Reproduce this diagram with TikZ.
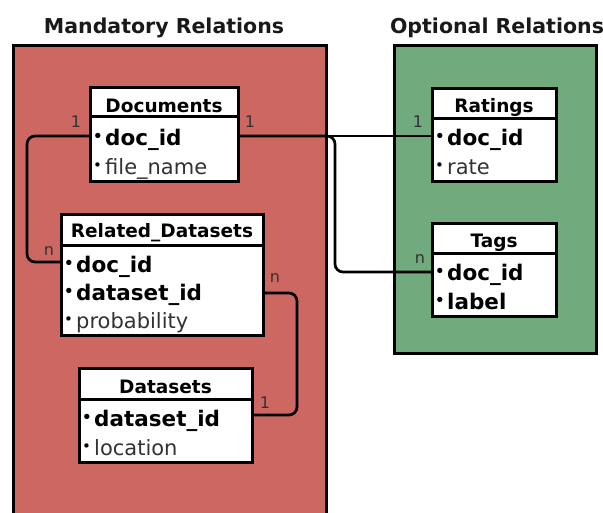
\documentclass[tikz,border=0pt]{standalone}
\usepackage{fontspec}
\setmainfont{DejaVu Sans}
\definecolor{redfill}{RGB}{204,103,98}
\definecolor{greenfill}{RGB}{113,170,125}
\definecolor{softtext}{RGB}{50,50,50}
\newcommand{\bul}{\makebox[12pt][l]{\raisebox{3.5pt}{\color{black}\fontsize{15}{15}\selectfont •}}}
\begin{document}
\begin{tikzpicture}[x=1pt,y=-1pt,
  groupbox/.style={draw=black,line width=3pt},
  hdrbox/.style={draw=black,fill=white,line width=3pt,outer sep=0pt,inner sep=0pt,anchor=north west},
  bodybox/.style={draw=black,fill=white,line width=3pt,outer sep=0pt,inner sep=0pt,anchor=north west},
  hdrtext/.style={font=\bfseries\fontsize{18.5}{20}\selectfont,anchor=base,inner sep=0pt},
  keyrow/.style={font=\bfseries\fontsize{21.5}{23}\selectfont,anchor=base west,inner sep=0pt},
  plainrow/.style={font=\fontsize{21}{23}\selectfont,text=softtext,anchor=base west,inner sep=0pt},
  title/.style={font=\bfseries\fontsize{20.5}{22}\selectfont,text=black!90,anchor=base,inner sep=0pt},
  conn/.style={draw=black,line width=2.7pt,rounded corners=8pt},
  card/.style={font=\fontsize{16}{16}\selectfont,text=softtext,inner sep=0pt}]
\useasboundingbox (0,0) rectangle (603,512);
\begin{scope}
\clip (0,0) rectangle (603,512);
\draw[groupbox,fill=redfill] (13.5,45.5) rectangle (326.5,540);
\draw[groupbox,fill=greenfill] (394.5,45.5) rectangle (596.5,353.5);
\end{scope}
% titles
\node[title] (tm) at (164,33) {Mandatory Relations};
\node[title] (to) at (497,33) {Optional Relations};
% Documents
\node[hdrbox,minimum width=148pt,minimum height=29pt] (doch) at (90,87) {};
\node[bodybox,minimum width=148pt,minimum height=65pt] (docb) at (doch.south west) {};
\node[hdrtext] (doct) at (164,112) {Documents};
\node[keyrow] (doc1) at (93,145) {\bul doc\_id};
\node[plainrow] (doc2) at (93,174) {\bul file\_name};
% Related_Datasets
\node[hdrbox,minimum width=202pt,minimum height=31pt] (relh) at (61,214) {};
\node[bodybox,minimum width=202pt,minimum height=90pt] (relb) at (relh.south west) {};
\node[hdrtext] (relt) at (162,237) {Related\_Datasets};
\node[keyrow] (rel1) at (64,272) {\bul doc\_id};
\node[keyrow] (rel2) at (64,300) {\bul dataset\_id};
\node[plainrow] (rel3) at (64,328) {\bul probability};
% Datasets
\node[hdrbox,minimum width=173pt,minimum height=31pt] (dath) at (79,368) {};
\node[bodybox,minimum width=173pt,minimum height=63pt] (datb) at (dath.south west) {};
\node[hdrtext] (datt) at (165.5,393) {Datasets};
\node[keyrow] (dat1) at (82,426) {\bul dataset\_id};
\node[plainrow] (dat2) at (82,455) {\bul location};
% Ratings
\node[hdrbox,minimum width=124pt,minimum height=30pt] (rath) at (432,88) {};
\node[bodybox,minimum width=124pt,minimum height=63pt] (ratb) at (rath.south west) {};
\node[hdrtext] (ratt) at (494,112) {Ratings};
\node[keyrow] (rat1) at (435,145) {\bul doc\_id};
\node[plainrow] (rat2) at (435,174) {\bul rate};
% Tags
\node[hdrbox,minimum width=124pt,minimum height=30pt] (tagh) at (432,223) {};
\node[bodybox,minimum width=124pt,minimum height=63pt] (tagb) at (tagh.south west) {};
\node[hdrtext] (tagt) at (494,247) {Tags};
\node[keyrow] (tag1) at (435,280) {\bul doc\_id};
\node[keyrow] (tag2) at (435,309) {\bul label};
% connector end points on table edges
\coordinate (docL) at (90,136);
\coordinate (docR) at (238,136);
\coordinate (relL) at (61,262);
\coordinate (relR) at (263,293);
\coordinate (datR) at (252,415);
\coordinate (ratL) at (432,136);
\coordinate (tagL) at (432,272);
% connectors
\draw[conn] (docL) -- ++(-63,0) |- (relL);
\draw[conn] (docR) -- (ratL);
\draw[conn] (docR) -- ++(97,0) |- (tagL);
\draw[conn] (relR) -- ++(34,0) |- (datR);
% cardinalities
\node[card] (k1) at (76,122) {1};
\node[card] (k2) at (49,251) {n};
\node[card] (k3) at (250,122) {1};
\node[card] (k4) at (418,122) {1};
\node[card] (k5) at (420,259) {n};
\node[card] (k6) at (275,278) {n};
\node[card] (k7) at (265,403) {1};
\end{tikzpicture}
\end{document}
